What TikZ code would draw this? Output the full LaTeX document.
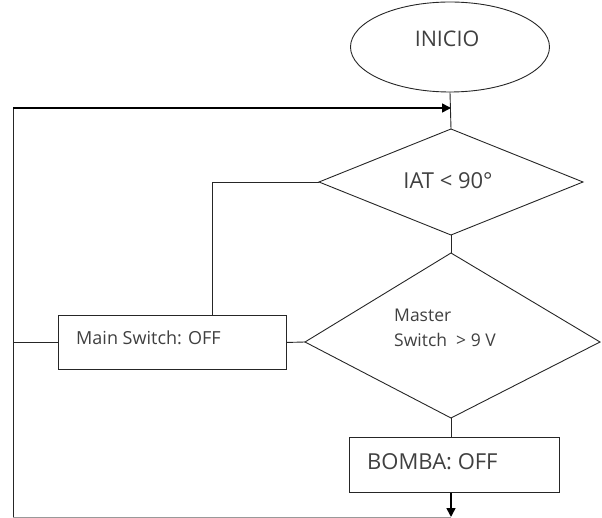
\documentclass[tikz,border=0pt]{standalone}
\usepackage{fontspec}
\setmainfont{Open Sans}
\usetikzlibrary{shapes.geometric,arrows.meta}
\begin{document}
\begin{tikzpicture}[x=1pt,y=-1pt,
  line/.style={draw=black!85,line width=0.9pt},
  flow/.style={draw=black,line width=1.6pt,-{Triangle[length=9pt,width=9pt]}},
  txt/.style={text=black!75,inner sep=0pt,font=\fontsize{18}{20}\selectfont},
  boxn/.style={line,rectangle,inner sep=0pt,anchor=north west}]
\useasboundingbox (0,0) rectangle (602,518);
\node[line,ellipse,minimum width=199pt,minimum height=90pt,inner sep=0pt] (ini) at (450,47) {};
\node[txt,font=\fontsize{21.5}{24}\selectfont] (t0) at (447,39) {INICIO};
% diamond 1
\coordinate (d1t) at (451,129);
\coordinate (d1l) at (319,182);
\coordinate (d1r) at (583,182);
\coordinate (d1b) at (451,235);
\draw[line] (d1t) -- (d1r) -- (d1b) -- (d1l) -- cycle;
\node[txt,font=\fontsize{22}{24}\selectfont] (t1) at (448,181) {IAT < 90°};
% diamond 2
\coordinate (d2t) at (451,253);
\coordinate (d2l) at (305,342);
\coordinate (d2r) at (600,342);
\coordinate (d2b) at (451,418);
\draw[line] (d2t) -- (d2r) -- (d2b) -- (d2l) -- cycle;
\node[txt,anchor=west,font=\fontsize{17.5}{20}\selectfont] (t2a) at (394,315) {Master};
\node[txt,anchor=west,font=\fontsize{17.5}{20}\selectfont] (t2b) at (394,340) {Switch\ \ > 9 V};
% boxes
\node[boxn,minimum width=228pt,minimum height=54pt] (ms) at (58,315) {};
\node[txt,anchor=west] (t3) at (76,338) {Main Switch: OFF};
\node[boxn,minimum width=210pt,minimum height=55pt] (bo) at (349,437) {};
\node[txt,anchor=west,font=\fontsize{22}{24}\selectfont] (t4) at (367,462) {BOMBA: OFF};
% helpers
\coordinate (tl) at (13,108);
\coordinate (ta) at (451,108);
\coordinate (bl) at (13,517);
\coordinate (ba) at (451,517);
\coordinate (mk) at (212,182);
% connectors
\draw[line] (ini.south) -- (d1t);
\draw[line] (d1b) -- (d2t);
\draw[line] (d2b) -- (bo.north -| d2b);
\draw[line] (d1l) -- (mk) -- (mk |- ms.north);
\draw[line] (ms.east) -- (d2l);
\draw[line] (ms.west) -- (ms.west -| tl);
\draw[line,draw=black!40] (bl) -- (ba);
\draw[line] (bl) -- (tl);
\draw[flow] (tl) -- (ta);
\draw[flow] (bo.south -| ba) -- (ba);
\end{tikzpicture}
\end{document}
